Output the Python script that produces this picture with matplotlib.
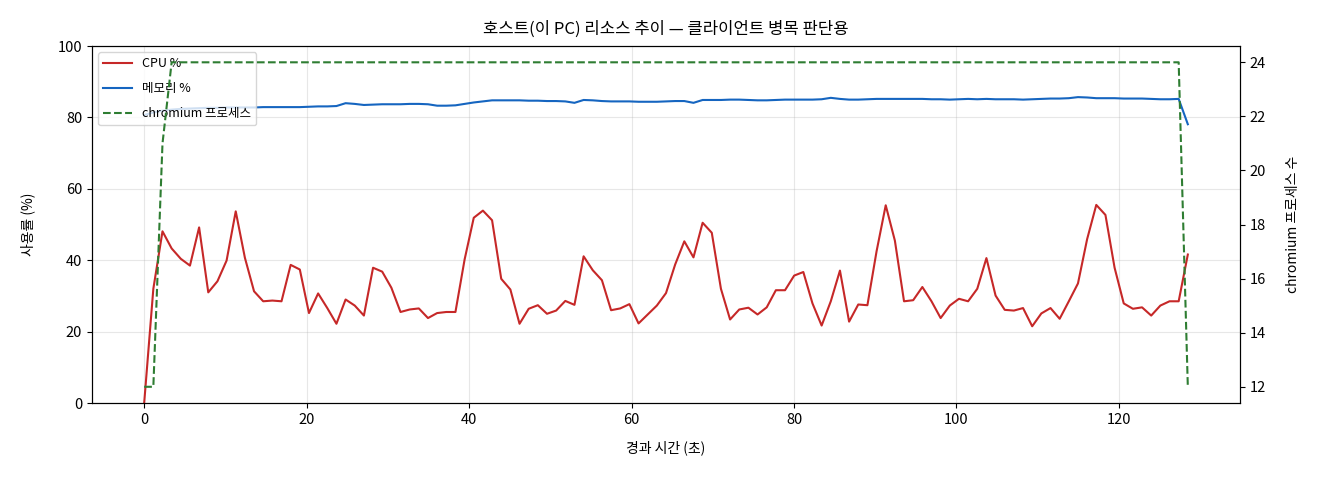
import numpy as np
import matplotlib
matplotlib.use("Agg")
import matplotlib.pyplot as plt

# 한글 폰트 설정 (CJK 글꼴 + 기본 글꼴 대체)
plt.rcParams['font.family'] = ['Noto Sans CJK KR', 'DejaVu Sans']
plt.rcParams['axes.unicode_minus'] = False

# ===== 데이터 =====
# 샘플링 간격 약 1.127초, 115개 샘플
sample_interval_s = 1.127
cpu_pct = [
    0.0, 32.0, 48.1, 43.3, 40.4, 38.5, 49.2, 31.0, 34.1, 39.9, 53.7, 40.7,
    31.3, 28.5, 28.7, 28.5, 38.7, 37.4, 25.2, 30.7, 26.6, 22.2, 29.0,
    27.3, 24.5, 37.9, 36.8, 32.3, 25.5, 26.2, 26.5, 23.8, 25.2, 25.5, 25.5,
    40.2, 51.9, 53.9, 51.2, 34.8, 31.8, 22.2, 26.4, 27.4, 25.0,
    25.9, 28.6, 27.5, 41.1, 37.2, 34.4, 26.0, 26.5, 27.7, 22.3, 24.8, 27.3,
    30.8, 38.8, 45.3, 40.8, 50.5, 47.7, 32.0, 23.4, 26.2, 26.7,
    24.8, 26.8, 31.6, 31.6, 35.7, 36.7, 27.9, 21.7, 28.5, 37.1, 22.8, 27.6,
    27.4, 42.5, 55.4, 45.5, 28.5, 28.8, 32.5, 28.5, 23.8, 27.3,
    29.2, 28.5, 32.0, 40.6, 30.1, 26.1, 25.9, 26.6, 21.5, 25.1, 26.6, 23.6,
    28.5, 33.5, 45.9, 55.5, 52.7, 37.9, 27.9, 26.4, 26.8, 24.5, 27.3, 28.5,
    28.5, 41.6,
]
mem_pct = [
    80.7, 81.4, 81.9, 82.2, 82.4, 82.5, 82.6, 82.7, 82.7, 82.8, 82.8, 82.8,
    82.8, 82.9, 82.9, 82.9, 82.9, 82.9, 83.0, 83.1, 83.1, 83.2, 84.0, 83.8,
    83.5, 83.6, 83.7, 83.7, 83.7, 83.8, 83.8, 83.7, 83.3, 83.3, 83.4, 83.8,
    84.2, 84.5, 84.8, 84.8, 84.8, 84.8, 84.7, 84.7, 84.6, 84.6, 84.5, 84.1,
    84.9, 84.8, 84.6, 84.5, 84.5, 84.5, 84.4, 84.4, 84.4, 84.5, 84.6, 84.6,
    84.1, 84.9, 84.9, 84.9, 85.0, 85.0, 84.9, 84.8, 84.8, 84.9, 85.0, 85.0,
    85.0, 85.0, 85.1, 85.5, 85.2, 85.0, 85.0, 85.1, 85.2, 85.2, 85.2, 85.2,
    85.2, 85.2, 85.1, 85.1, 85.0, 85.1, 85.2, 85.1, 85.2, 85.1, 85.1, 85.1,
    85.0, 85.1, 85.2, 85.3, 85.3, 85.4, 85.7, 85.6, 85.4, 85.4, 85.4, 85.3,
    85.3, 85.3, 85.2, 85.1, 85.1, 85.2, 78.1,
]
chromium_procs = [12, 12, 21] + [24] * 111 + [12]

elapsed_s = np.arange(len(cpu_pct)) * sample_interval_s

# ===== 그래프 =====
fig = plt.figure(figsize=(13.2, 4.8), dpi=100)
ax1 = fig.add_axes([0.0697, 0.1604, 0.8697, 0.7436])
ax2 = ax1.twinx()

l_cpu, = ax1.plot(elapsed_s, cpu_pct, color='#c62828', linewidth=1.5, label='CPU %')
l_mem, = ax1.plot(elapsed_s, mem_pct, color='#1565c0', linewidth=1.5, label='메모리 %')
l_proc, = ax2.plot(elapsed_s, chromium_procs, color='#2e7d32', linewidth=1.5,
                   linestyle='--', label='chromium 프로세스')

ax1.set_ylim(0, 100)
ax1.grid(True, alpha=0.3)
ax1.set_xlabel('경과 시간 (초)', fontsize=10, labelpad=10)
ax1.set_ylabel('사용률 (%)', fontsize=10, labelpad=16)
ax2.set_ylabel('chromium 프로세스 수', fontsize=10, labelpad=14)
ax1.tick_params(labelsize=10.5)
ax2.tick_params(labelsize=10.5)
ax1.set_title('호스트(이 PC) 리소스 추이 — 클라이언트 병목 판단용', fontsize=12, pad=9)

ax1.legend(handles=[l_cpu, l_mem, l_proc], loc='upper left', fontsize=9,
           framealpha=0.8, labelspacing=0.95, handlelength=2.3)

fig.savefig('out.png', dpi=100)
